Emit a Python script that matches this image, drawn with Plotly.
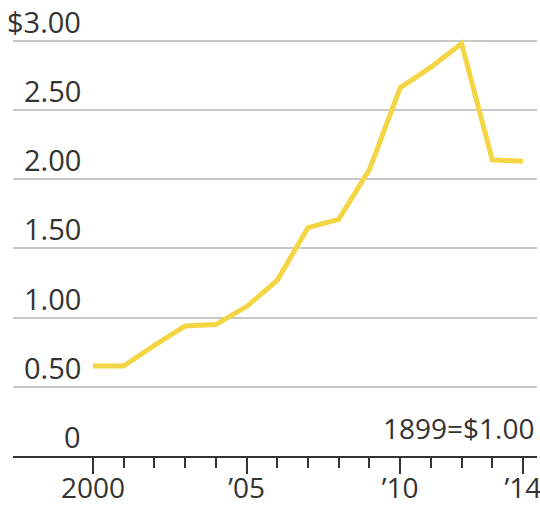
import plotly.graph_objects as go

years = list(range(2000, 2015))
values = [0.65, 0.65, 0.80, 0.94, 0.95, 1.08, 1.27, 1.65, 1.71, 2.07, 2.66, 2.81, 2.98, 2.14, 2.13]

x_tick_vals = [2000, 2005, 2010, 2014]
x_tick_text = ["2000", "’05", "’10", "’14"]
y_tick_vals = [0, 0.5, 1.0, 1.5, 2.0, 2.5, 3.0]
y_tick_text = ["0", "0.50", "1.00", "1.50", "2.00", "2.50", "$3.00"]
note_text = "1899=$1.00"

FONT = "Open Sans"
TXT = "#333333"

fig = go.Figure()
fig.add_trace(go.Scatter(
    x=years, y=values, mode="lines",
    line=dict(color="#F4D544", width=5),
    hoverinfo="skip",
))

annotations = []
for v, t in zip(y_tick_vals, y_tick_text):
    annotations.append(dict(
        x=0.1336, xref="paper", y=v, yref="y",
        text=t, showarrow=False, xanchor="right", yanchor="bottom",
        yshift=-2, font=dict(family=FONT, size=29, color=TXT),
    ))
annotations.append(dict(
    x=0.9985, xref="paper", y=0, yref="y",
    text=note_text, showarrow=False, xanchor="right", yanchor="bottom",
    yshift=7, font=dict(family=FONT, size=28, color=TXT),
))

fig.update_layout(
    width=540, height=508,
    margin=dict(l=13, r=3, t=27, b=52),
    paper_bgcolor="white", plot_bgcolor="white",
    showlegend=False,
    annotations=annotations,
    xaxis=dict(
        range=[1997.395, 2014.456],
        tickmode="array", tickvals=x_tick_vals, ticktext=x_tick_text,
        ticks="outside", ticklen=16, tickwidth=2, tickcolor=TXT,
        minor=dict(tickmode="array", tickvals=years, ticks="outside",
                   ticklen=10, tickwidth=2, tickcolor=TXT, showgrid=False),
        showline=True, linecolor=TXT, linewidth=2,
        showgrid=False, zeroline=False,
        ticklabeloverflow="allow", automargin=False,
        ticklabelstandoff=-10,
        tickfont=dict(family=FONT, size=28, color=TXT),
    ),
    yaxis=dict(
        range=[0, 3.1],
        tickmode="array", tickvals=y_tick_vals,
        showticklabels=False, ticks="", automargin=False,
        showgrid=True, gridcolor="#c8c8c8", gridwidth=1.5,
        zeroline=False, showline=False,
    ),
)

fig.write_html("out.html")
